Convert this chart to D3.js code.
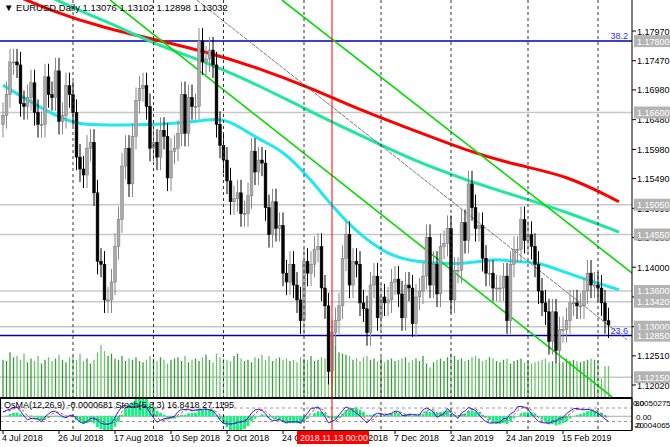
<!DOCTYPE html>
<html><head><meta charset="utf-8">
<script src="https://cdn.jsdelivr.net/npm/d3@7"></script>
<style>body{margin:0;background:#fff}svg{display:block;font-family:"Liberation Sans",Arial,sans-serif}</style>
</head><body><svg id="c" width="670" height="447"></svg>
<script>
// ---- data ----
const closes = [
1.1655,1.1690,1.1745,
1.1745,1.1740,1.1675,1.1670,1.1685,
1.1710,1.1660,1.1640,1.1640,1.1720,
1.1690,1.1685,1.1730,1.1645,1.1655,
1.1705,1.1690,1.1660,1.1585,1.1565,
1.1555,1.1600,1.1610,1.1525,1.1410,
1.1405,1.1345,1.1345,1.1375,1.1435,
1.1480,1.1570,1.1600,1.1540,1.1620,
1.1680,1.1700,1.1705,1.1670,1.1600,
1.1610,1.1585,1.1630,1.1620,1.1550,
1.1595,1.1600,1.1625,1.1690,1.1625,
1.1685,1.1670,1.1670,1.1780,1.1745,
1.1750,1.1765,1.1740,1.1640,1.1605,
1.1580,1.1545,1.1510,1.1515,1.1525,
1.1490,1.1490,1.1520,1.1595,1.1560,
1.1580,1.1575,1.1500,1.1455,1.1510,
1.1465,1.1470,1.1390,1.1375,1.1405,
1.1370,1.1345,1.1310,1.1410,1.1390,
1.1405,1.1430,1.1435,1.1365,1.1335,
1.1225,1.1290,1.1310,1.1335,1.1415,
1.1455,1.1370,1.1410,1.1405,1.1340,
1.1330,1.1290,1.1370,1.1385,1.1315,
1.1350,1.1340,1.1345,1.1375,1.1380,
1.1355,1.1315,1.1370,1.1365,1.1305,
1.1350,1.1360,1.1385,1.1450,1.1370,
1.1405,1.1355,1.1435,1.1440,
1.1465,1.1345,1.1395,1.1395,
1.1475,1.1445,1.1540,1.1500,1.1465,
1.1470,1.1415,1.1390,1.1390,1.1365,
1.1365,1.1365,1.1385,1.1310,1.1405,
1.1430,1.1430,1.1480,1.1445,1.1455,
1.1435,1.1405,1.1360,1.1340,1.1325,
1.1275,1.1325,1.1260,1.1295,1.1295,
1.1310,1.1340,1.1340,1.1335,1.1335,
1.1360,1.1390,1.1370,1.1370,1.1365,
1.1340,1.1310,1.1303];
const firstOpen = 1.1640;
const wick = 0.0022;
const volumes = ("60 58 72 64 66 60 70 56 62 58 66 54 60 64 58 62 68 60 56 64 66 60 70 58 62 54 60 "+
"72 84 74 66 70 62 60 66 58 62 60 64 58 56 60 66 62 58 64 60 54 60 62 64 58 66 56 60 62 "+
"58 64 68 60 56 70 64 62 60 58 66 70 62 58 60 56 64 62 68 60 66 58 62 64 60 62 58 60 56 "+
"64 62 60 66 58 60 64 62 56 60 98 72 70 68 66 60 62 58 64 66 60 62 58 64 56 60 62 58 60 "+
"62 64 56 60 62 58 66 54 48 56 60 62 58 64 70 66 60 62 58 60 64 66 62 58 60 64 62 58 56 "+
"60 62 54 58 60 62 56 58 54 56 58 60 62 56 58 54 60 56 62 58 60 58 56 58 60 62 60 58 30").split(" ").map(Number);
const maFast = [[0,1.1706],[14,1.1656],[22,1.1639],[29,1.1639],[44,1.1639],[58,1.1647],[64,1.1651],[73,1.1614],[80,1.1597],[88,1.1547],[95,1.1496],[102,1.1454],[110,1.1421],[117,1.1409],[132,1.1404],[140,1.1415],[146,1.1409],[153,1.1409],[161,1.1390],[170,1.1373],[176,1.1362]];
const maMid = [[0,1.1900],[14,1.1850],[29,1.1815],[44,1.1773],[58,1.1745],[73,1.1706],[88,1.1661],[102,1.1622],[117,1.1580],[132,1.1547],[146,1.1521],[161,1.1493],[176,1.1459]];
const maSlow = [[0,1.1866],[14,1.1830],[29,1.1802],[44,1.1782],[58,1.1762],[73,1.1735],[88,1.1701],[102,1.1664],[117,1.1631],[132,1.1597],[146,1.1572],[161,1.1555],[176,1.1510]];
const trendLines = [[[79.7,1.1849],[180,1.1389]],[[30.6,1.1849],[174,1.1182]]];
const thinLine = [[55.4,1.1849],[178.3,1.1278]];
const grayLevels = [1.1660,1.1505,1.1455,1.1360,1.1342,1.1300,1.1215];
const blueLevels = [[1.1780,"38.2"],[1.1285,"23.6"]];
const boxLabels = ["1.17800","1.16600","1.15050","1.14550","1.13600","1.13420","1.13000","1.12850","1.12150"];
const priceTicks = [1.1797,1.1747,1.1698,1.1648,1.1598,1.1549,1.1499,1.1450,1.1400,1.1350,1.1300,1.1251,1.1202];
const oscTicks = ["0.0050275","0.00","-0.004065"];

// ---- dates ----
const holidays = new Set(["2018-12-25","2019-01-01"]);
const fmtKey = d3.timeFormat("%Y-%m-%d");
const dates = [];
for (let d = new Date(2018,6,4); dates.length < closes.length; d = d3.timeDay.offset(d,1)) {
  const wd = d.getDay(); if (wd===0||wd===6||holidays.has(fmtKey(d))) continue; dates.push(new Date(d));
}
const bars = closes.map((c,i)=>{const o=i?closes[i-1]:firstOpen;return {i,o,c,h:Math.max(o,c)+wick,l:Math.min(o,c)-wick,v:volumes[i]||50,d:dates[i]};});

// ---- layout ----
const svg = d3.select("#c");
const W=632, mainBot=397, oscTop=398, oscBot=430;
const x = d3.scaleLinear().domain([0,1]).range([3,3+3.5]);
const y = d3.scaleLinear().domain([1.1202,1.1797]).range([385,31]);
const yv = d3.scaleLinear().domain([0,100]).range([397,335]);
const ys = d3.scaleLinear().domain([0,100]).range([426,403.5]);
svg.append("clipPath").attr("id","cm").append("rect").attr("x",0).attr("y",0).attr("width",W).attr("height",mainBot);
svg.append("clipPath").attr("id","co").append("rect").attr("x",0).attr("y",oscTop).attr("width",W).attr("height",oscBot-oscTop);
const gm = svg.append("g").attr("clip-path","url(#cm)");
const go = svg.append("g").attr("clip-path","url(#co)");

const monthIdx = bars.filter((b,i)=>i>0 && b.d.getMonth()!==bars[i-1].d.getMonth()).map(b=>b.i);
monthIdx.forEach(i=>{
  svg.append("line").attr("x1",x(i)).attr("x2",x(i)).attr("y1",0).attr("y2",oscBot).attr("stroke","#333").attr("stroke-dasharray","3,3").attr("stroke-width",1);
});
grayLevels.forEach(p=>gm.append("line").attr("x1",0).attr("x2",W).attr("y1",y(p)).attr("y2",y(p)).attr("stroke","#c8c8c8").attr("stroke-width",1.5));
gm.selectAll(".v").data(bars).join("line").attr("x1",d=>x(d.i)).attr("x2",d=>x(d.i)).attr("y1",mainBot).attr("y2",d=>yv(d.v))
  .attr("stroke",d=>d.c>=d.o?"#3a9a3a":"#6cc26c").attr("stroke-width",1.3);
blueLevels.forEach(([p,t])=>{
  gm.append("line").attr("x1",0).attr("x2",W).attr("y1",y(p)).attr("y2",y(p)).attr("stroke","#0000b0").attr("stroke-width",1.5);
  gm.append("text").attr("x",628).attr("y",y(p)-2).attr("text-anchor","end").attr("font-size",9).attr("fill","#3030ff").text(t);
});
const line = d3.line().x(d=>x(d[0])).y(d=>y(d[1])).curve(d3.curveBasis);
gm.append("path").attr("d",line(maSlow)).attr("fill","none").attr("stroke","#ff0000").attr("stroke-width",3);
gm.append("path").attr("d",line(maMid)).attr("fill","none").attr("stroke","#1ee89a").attr("stroke-width",3);
gm.append("path").attr("d",line(maFast)).attr("fill","none").attr("stroke","#1ee8f0").attr("stroke-width",3);
const sl = d3.line().x(d=>x(d[0])).y(d=>y(d[1]));
trendLines.forEach(t=>gm.append("path").attr("d",sl(t)).attr("stroke","#00dd00").attr("stroke-width",1.6).attr("fill","none"));
gm.append("path").attr("d",sl(thinLine)).attr("stroke","#555").attr("stroke-width",0.8).attr("stroke-dasharray","4,1").attr("fill","none");
const cg = gm.selectAll(".c").data(bars).join("g");
cg.append("line").attr("x1",d=>x(d.i)).attr("x2",d=>x(d.i)).attr("y1",d=>y(d.h)).attr("y2",d=>y(d.l)).attr("stroke",d=>d.c>=d.o?"#888":"#000");
cg.append("rect").attr("x",d=>x(d.i)-1.4).attr("width",2.8).attr("y",d=>y(Math.max(d.o,d.c))).attr("height",d=>Math.max(1,y(Math.min(d.o,d.c))-y(Math.max(d.o,d.c))))
  .attr("fill",d=>d.c>=d.o?"#aaa":"#000").attr("stroke",d=>d.c>=d.o?"#777":"#000").attr("stroke-width",0.5);

// ---- oscillators ----
const ema=(arr,n)=>{const k=2/(n+1);const out=[];arr.forEach((v,i)=>out.push(i?v*k+out[i-1]*(1-k):v));return out;};
const sma=(arr,n)=>arr.map((v,i)=>d3.mean(arr.slice(Math.max(0,i-n+1),i+1)));
const e26 = ema(closes,26);
const macd = ema(closes,12).map((v,i)=>v-e26[i]);
const sig = sma(macd,9);
const osma = macd.map((v,i)=>v-sig[i]);
const kRaw = bars.map((b,i)=>{const s=bars.slice(Math.max(0,i-4),i+1);const lo=d3.min(s,d=>d.l),hi=d3.max(s,d=>d.h);return 100*(b.c-lo)/(hi-lo);});
const kLine = sma(kRaw,3), dLine = sma(kLine,3);
const yo = d3.scaleLinear().domain([-0.004065,0.0050275]).range([427,403]);
go.append("line").attr("x1",0).attr("x2",W).attr("y1",yo(0)).attr("y2",yo(0)).attr("stroke","#aaa");
[80,20].forEach(l=>go.append("line").attr("x1",0).attr("x2",W).attr("y1",ys(l)).attr("y2",ys(l)).attr("stroke","#999").attr("stroke-dasharray","3,3"));
go.selectAll(".o").data(osma).join("line").attr("x1",(d,i)=>x(i)).attr("x2",(d,i)=>x(i)).attr("y1",yo(0)).attr("y2",d=>yo(d*1.6)).attr("stroke","#10f080").attr("stroke-width",2.8);
const sline = d3.line().x((d,i)=>x(i)).y(d=>ys(d));
go.append("path").attr("d",sline(dLine)).attr("fill","none").attr("stroke","#ff3030").attr("stroke-dasharray","3,2");
go.append("path").attr("d",sline(kLine)).attr("fill","none").attr("stroke","#2020ff").attr("stroke-width",1);

svg.append("line").attr("x1",W).attr("x2",W).attr("y1",0).attr("y2",oscBot).attr("stroke","#000");
svg.append("line").attr("x1",0).attr("x2",W).attr("y1",mainBot+0.5).attr("y2",mainBot+0.5).attr("stroke","#000");
svg.append("rect").attr("x",0.5).attr("y",oscTop+0.5).attr("width",W-0.5).attr("height",oscBot-oscTop).attr("fill","none").attr("stroke","#000");

const selIdx = bars.findIndex(b=>fmtKey(b.d)==="2018-11-13");
svg.append("line").attr("x1",x(selIdx)).attr("x2",x(selIdx)).attr("y1",0).attr("y2",oscBot).attr("stroke","#ff0000");

const pa = svg.append("g").attr("font-size",9).attr("fill","#000");
priceTicks.forEach(p=>{
  pa.append("line").attr("x1",W).attr("x2",W+4).attr("y1",y(p)).attr("y2",y(p)).attr("stroke","#000");
  pa.append("text").attr("x",637).attr("y",y(p)+3.5).text(p.toFixed(5));
});
boxLabels.forEach(t=>{
  const p=+t;
  pa.append("rect").attr("x",634).attr("y",y(p)-6).attr("width",36).attr("height",12).attr("fill","#b4b4b4");
  pa.append("text").attr("x",637).attr("y",y(p)+3.5).attr("fill","#fff").text(t);
});
const oa = svg.append("g").attr("font-size",8);
oa.append("text").attr("x",635).attr("y",406).text("80");
oa.append("text").attr("x",633).attr("y",406).text(oscTicks[0]);
oa.append("text").attr("x",636).attr("y",yo(0)+3.5).text(oscTicks[1]);
oa.append("text").attr("x",635).attr("y",428).text("20");
oa.append("text").attr("x",634).attr("y",428).text(oscTicks[2]);

const fmtD = d3.timeFormat("%-d %b %Y");
const da = svg.append("g").attr("font-size",8.8);
bars.filter(b=>b.i%16===0).forEach(b=>{
  da.append("line").attr("x1",x(b.i)).attr("x2",x(b.i)).attr("y1",oscBot).attr("y2",oscBot+4).attr("stroke","#000");
  da.append("text").attr("x",x(b.i)-1).attr("y",441).text(fmtD(b.d));
});
da.append("rect").attr("x",x(selIdx)-35).attr("y",431).attr("width",72).attr("height",13).attr("fill","#ff0000");
da.append("text").attr("x",x(selIdx)-32).attr("y",441).attr("fill","#fff").text("2018.11.13 00:00");

svg.append("text").attr("x",4).attr("y",11).attr("font-size",9.5).text("\u25BC EURUSD,Daily  1.13076 1.13102 1.12898 1.13032");
svg.append("text").attr("x",4).attr("y",408).attr("font-size",9).text("OsMA(12,26,9) -0.0000681  Stoch(5,3,3) 16.8418 27.1195");
</script></body></html>
